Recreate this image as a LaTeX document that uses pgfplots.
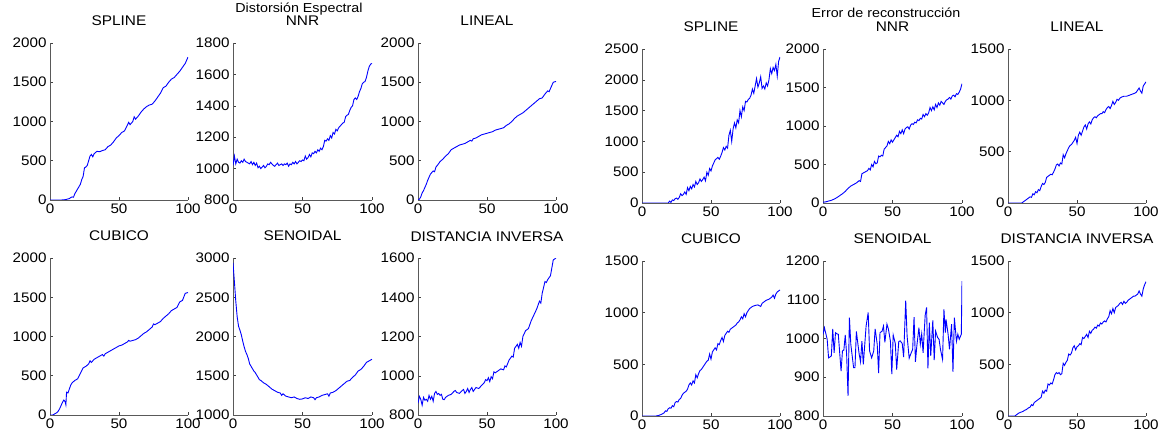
\documentclass[border=0pt]{standalone}
\usepackage{fontspec}
\setmainfont[FakeStretch=1.1]{Liberation Sans}
\usepackage{pgfplots}
\pgfplotsset{compat=1.18}
\definecolor{mblue}{RGB}{0,0,255}
\pgfplotsset{
  sub/.style={
    scale only axis, width=138pt, height=157pt,
    xmin=0, xmax=100, xtick={0,50,100},
    axis x line*=bottom, axis y line*=left,
    tick align=inside, major tick length=3pt,
    tick style={black!75, line width=0.5pt},
    axis line style={black!65, line width=0.7pt},
    ticklabel style={font=\fontsize{13.8}{13.8}\selectfont, text=black},
    /pgf/number format/assume math mode=true,
    /pgf/number format/set thousands separator={},
    scaled ticks=false,
    no markers,
    cycle list={{mblue}},
    every axis plot/.append style={line width=0.9pt},
    title style={font=\fontsize{14}{14}\selectfont, anchor=base, at={(0.5,1)}, yshift=11pt},
  },
}
\begin{document}
\begin{tikzpicture}
\useasboundingbox (0,0) rectangle (1167pt,436pt);
% ---------------- Distorsion Espectral ----------------
\begin{axis}[sub, at={(50pt,236pt)}, anchor=south west, title={SPLINE}, ymin=0, ymax=2000, ytick={0,500,1000,1500,2000}]
\addplot coordinates {(0,0)(2,0)(4,0)(6,0)(8,0)(10,2)(12,8)(14,18)(15,30)(16,40)(17,35)(18,80)(20,140)(22,200)(23,260)(24,300)(25,410)(26,420)(27,440)(28,500)(29,560)(30,580)(31,550)(32,590)(34,620)(36,615)(38,630)(40,640)(42,680)(44,700)(46,740)(48,790)(50,820)(52,860)(54,880)(56,950)(57,990)(58,960)(60,1000)(61,1060)(62,1030)(64,1070)(66,1120)(68,1160)(70,1190)(72,1210)(74,1220)(76,1260)(78,1310)(80,1360)(82,1430)(84,1450)(86,1500)(88,1540)(90,1560)(92,1600)(94,1640)(96,1690)(98,1740)(100,1820)};
\end{axis}
\begin{axis}[sub, at={(233pt,236pt)}, anchor=south west, width=139pt, title={NNR}, ymin=800, ymax=1800, ytick={800,1000,1200,1400,1600,1800}]
\addplot coordinates {(0,1020)(1,1080)(2,1030)(3,1060)(4,1040)(5,1035)(6,1050)(7,1040)(8,1060)(9,1045)(10,1040)(12,1030)(13,1045)(14,1025)(15,1040)(16,1020)(17,1035)(18,1005)(19,1015)(20,1000)(21,1010)(22,1020)(23,1005)(24,1015)(25,1030)(26,1025)(27,1040)(28,1030)(29,1020)(30,1015)(31,1025)(32,1035)(33,1020)(34,1025)(35,1030)(36,1020)(37,1030)(38,1025)(39,1035)(40,1015)(41,1030)(42,1025)(43,1040)(44,1030)(45,1045)(46,1030)(47,1040)(48,1050)(49,1045)(50,1055)(51,1050)(52,1080)(53,1060)(54,1070)(55,1090)(56,1075)(57,1100)(58,1095)(59,1110)(60,1100)(61,1120)(62,1110)(63,1130)(64,1120)(65,1140)(66,1180)(67,1175)(68,1190)(69,1180)(70,1210)(71,1195)(72,1230)(73,1220)(74,1250)(75,1240)(76,1260)(77,1270)(78,1280)(79,1290)(80,1295)(81,1330)(82,1340)(83,1345)(84,1370)(85,1390)(86,1400)(87,1440)(88,1450)(89,1440)(90,1460)(91,1490)(92,1510)(93,1540)(94,1550)(95,1555)(96,1580)(97,1620)(98,1650)(99,1665)(100,1670)};
\end{axis}
\begin{axis}[sub, at={(418pt,236pt)}, anchor=south west, title={LINEAL}, ymin=0, ymax=2000, ytick={0,500,1000,1500,2000}]
\addplot coordinates {(0,0)(1,10)(2,40)(3,90)(4,120)(5,160)(6,200)(7,250)(8,290)(9,330)(10,350)(11,370)(12,360)(13,420)(14,440)(16,490)(18,520)(20,560)(22,590)(24,640)(26,660)(28,680)(30,700)(32,710)(34,720)(36,740)(38,760)(39,750)(40,780)(42,790)(44,810)(46,830)(48,840)(50,850)(52,860)(54,870)(56,890)(58,900)(60,910)(62,920)(64,950)(66,970)(68,1000)(70,1040)(72,1070)(74,1090)(76,1110)(78,1140)(80,1170)(82,1200)(84,1230)(86,1260)(88,1290)(90,1300)(92,1350)(94,1390)(95,1380)(96,1420)(98,1500)(100,1510)};
\end{axis}
\begin{axis}[sub, at={(50pt,21pt)}, anchor=south west, title={CUBICO}, ymin=0, ymax=2000, ytick={0,500,1000,1500,2000}]
\addplot coordinates {(0,0)(2,0)(3,10)(4,20)(5,30)(6,50)(7,80)(8,120)(9,160)(10,190)(11,170)(11.5,130)(12,290)(13,280)(14,330)(15,380)(16,410)(18,440)(20,460)(22,530)(24,600)(26,620)(28,650)(29,690)(30,670)(32,710)(34,730)(36,750)(38,770)(39,750)(40,780)(42,800)(44,820)(46,840)(48,860)(50,880)(52,890)(54,910)(56,930)(57,950)(58,940)(60,950)(62,960)(64,980)(66,1010)(68,1040)(70,1060)(72,1090)(74,1120)(75,1160)(76,1150)(78,1170)(80,1190)(82,1230)(84,1260)(86,1290)(88,1330)(90,1350)(92,1370)(94,1440)(96,1460)(98,1550)(100,1560)};
\end{axis}
\begin{axis}[sub, at={(233pt,21pt)}, anchor=south west, width=139pt, title={SENOIDAL}, ymin=1000, ymax=3000, ytick={1000,1500,2000,2500,3000}]
\addplot coordinates {(0,2940)(1,2700)(2,2450)(3,2250)(4,2130)(5,2080)(6,2020)(7,1940)(8,1870)(9,1810)(10,1770)(11,1720)(12,1650)(13,1620)(14,1590)(15,1560)(16,1540)(17,1510)(18,1480)(19,1450)(20,1440)(22,1410)(24,1390)(26,1360)(28,1330)(30,1310)(32,1290)(34,1280)(35,1250)(36,1270)(38,1240)(40,1230)(42,1220)(44,1230)(46,1210)(48,1200)(50,1205)(52,1220)(54,1210)(56,1230)(58,1220)(59,1195)(60,1220)(62,1230)(64,1250)(66,1260)(68,1270)(69,1240)(70,1280)(72,1290)(74,1310)(76,1340)(78,1370)(80,1400)(82,1430)(84,1440)(86,1480)(88,1510)(90,1560)(92,1580)(94,1620)(96,1670)(98,1690)(100,1710)};
\end{axis}
\begin{axis}[sub, at={(418pt,21pt)}, anchor=south west, title={DISTANCIA INVERSA}, ymin=800, ymax=1600, ytick={800,1000,1200,1400,1600}]
\addplot coordinates {(0,860)(1,895)(2,880)(3,850)(4,890)(5,875)(6,880)(7,870)(8,900)(9,880)(10,895)(11,870)(12,910)(13,920)(14,905)(15,910)(16,900)(17,905)(18,880)(19,878)(20,890)(22,900)(24,905)(26,920)(27,925)(28,915)(30,910)(32,925)(33,930)(34,910)(35,920)(36,935)(37,915)(38,930)(39,940)(40,920)(42,940)(44,935)(46,950)(48,965)(49,980)(50,975)(51,990)(52,970)(53,995)(54,985)(55,1020)(56,1015)(58,1025)(60,1035)(62,1030)(63,1050)(64,1045)(66,1080)(68,1100)(69,1095)(70,1140)(72,1160)(73,1140)(74,1170)(75,1150)(76,1200)(78,1230)(80,1240)(82,1280)(84,1310)(86,1340)(88,1380)(89,1370)(90,1420)(92,1480)(93,1475)(94,1490)(96,1510)(98,1590)(100,1600)};
\end{axis}
% ---------------- Error de reconstruccion ----------------
\begin{axis}[sub, at={(642pt,233pt)}, anchor=south west, height=154pt, title={SPLINE}, ymin=0, ymax=2500, ytick={0,500,1000,1500,2000,2500}]
\addplot coordinates {(0,0)(5,0)(10,0)(15,0)(19,0)(20,30)(21,10)(22,50)(23,40)(24,70)(25,80)(26,60)(27,90)(28,150)(29,120)(30,140)(31,180)(32,140)(33,250)(34,200)(35,270)(36,230)(37,300)(38,260)(39,350)(40,300)(41,330)(42,390)(43,350)(44,380)(45,420)(46,360)(47,500)(48,450)(49,560)(50,520)(51,600)(52,650)(53,700)(54,720)(55,740)(56,710)(57,760)(58,820)(59,900)(60,860)(61,920)(62,890)(63,1100)(64,1180)(65,1000)(66,1200)(67,1300)(68,1220)(69,1350)(70,1300)(71,1500)(72,1400)(73,1560)(74,1500)(75,1650)(76,1640)(77,1680)(78,1700)(79,1750)(80,1850)(81,1780)(82,1900)(83,2020)(84,1880)(85,1950)(86,2050)(87,1860)(88,1900)(89,1850)(90,1950)(91,1900)(92,2000)(93,2180)(94,2100)(95,2200)(96,2150)(97,2250)(98,2060)(99,2300)(100,2370)};
\end{axis}
\begin{axis}[sub, at={(823pt,233pt)}, anchor=south west, width=139pt, height=154pt, title={NNR}, ymin=0, ymax=2000, ytick={0,500,1000,1500,2000}]
\addplot coordinates {(0,10)(2,15)(4,25)(6,35)(8,50)(10,70)(12,95)(14,120)(16,150)(18,190)(20,220)(22,240)(24,260)(26,290)(27,280)(28,380)(29,390)(30,400)(31,410)(32,420)(33,450)(34,430)(35,500)(36,470)(37,540)(38,510)(39,520)(40,610)(41,600)(42,620)(43,610)(44,700)(45,720)(46,740)(47,800)(48,770)(49,820)(50,790)(51,820)(52,850)(53,880)(54,860)(55,930)(56,900)(57,950)(58,900)(59,960)(60,980)(61,990)(62,960)(63,1010)(64,1030)(65,1020)(66,1050)(67,1040)(68,1080)(69,1070)(70,1100)(71,1090)(72,1150)(73,1120)(74,1160)(75,1140)(76,1170)(77,1240)(78,1200)(79,1250)(80,1210)(81,1280)(82,1240)(83,1300)(84,1270)(85,1320)(86,1300)(87,1280)(88,1320)(89,1340)(90,1350)(91,1370)(92,1350)(93,1390)(94,1400)(95,1380)(96,1420)(97,1410)(98,1440)(99,1480)(100,1550)};
\end{axis}
\begin{axis}[sub, at={(1008pt,233pt)}, anchor=south west, height=154pt, title={LINEAL}, ymin=0, ymax=1500, ytick={0,500,1000,1500}]
\addplot coordinates {(0,0)(5,0)(10,0)(12,20)(14,40)(15,50)(16,60)(17,55)(18,90)(19,80)(20,110)(21,100)(22,130)(23,120)(24,160)(25,190)(26,180)(27,200)(28,250)(29,260)(30,270)(31,280)(32,275)(33,300)(34,330)(35,370)(36,380)(37,360)(38,390)(39,380)(40,470)(41,440)(42,480)(43,510)(44,540)(45,560)(46,570)(47,590)(48,610)(49,640)(50,580)(51,660)(52,690)(53,660)(54,700)(55,740)(56,760)(57,720)(58,770)(59,790)(60,770)(61,810)(62,830)(63,840)(64,830)(65,850)(66,860)(67,870)(68,870)(69,890)(70,880)(71,910)(72,930)(73,940)(74,920)(75,950)(76,990)(77,960)(78,980)(79,1010)(80,1000)(81,1020)(82,1030)(84,1040)(86,1040)(88,1050)(90,1060)(92,1070)(93,1080)(94,1100)(95,1120)(96,1090)(97,1070)(98,1140)(99,1160)(100,1180)};
\end{axis}
\begin{axis}[sub, at={(642pt,20pt)}, anchor=south west, height=155pt, title={CUBICO}, ymin=0, ymax=1500, ytick={0,500,1000,1500}]
\addplot coordinates {(0,0)(5,0)(10,0)(12,5)(14,15)(16,30)(17,50)(18,45)(19,70)(20,80)(21,75)(22,100)(23,90)(24,130)(25,140)(26,135)(27,160)(28,170)(29,200)(30,220)(31,230)(32,240)(33,260)(34,300)(35,320)(36,300)(37,340)(38,320)(39,400)(40,370)(41,410)(42,440)(43,450)(44,470)(45,490)(46,510)(47,530)(48,540)(49,600)(50,550)(51,620)(52,640)(53,660)(54,640)(55,700)(56,690)(57,730)(58,760)(59,720)(60,780)(61,800)(62,820)(63,810)(64,840)(65,850)(66,860)(67,870)(68,880)(69,900)(70,910)(71,930)(72,960)(73,940)(74,990)(75,960)(76,1000)(77,1020)(78,1040)(79,1050)(80,1060)(82,1070)(84,1075)(86,1060)(87,1090)(88,1100)(90,1120)(92,1130)(94,1150)(95,1170)(96,1140)(97,1180)(98,1200)(100,1220)};
\end{axis}
\begin{axis}[sub, at={(823pt,20pt)}, anchor=south west, width=139pt, height=155pt, title={SENOIDAL}, ymin=800, ymax=1200, ytick={800,900,1000,1100,1200}]
\addplot coordinates {(0,1010)(1,1028)(3,998)(4,950)(6,955)(7,1025)(8,963)(9,1015)(10,1012)(11,1011)(13,916)(14,968)(15,970)(16,1009)(17,959)(18,852)(19,1054)(20,985)(22,925)(23,925)(24,1018)(26,960)(27,940)(28,993)(29,933)(31,1032)(32.5,1067)(33.5,968)(35,950)(36.5,968)(37.5,1025)(39,985)(40,911)(41,1015)(42.5,1019)(43.5,1032)(44.5,990)(46,1037)(47,1025)(48.5,993)(49.5,908)(50.5,1009)(52,987)(53,920)(54.5,992)(55.5,994)(57,987)(58,952)(59.5,1098)(60.5,1006)(62,949)(63,959)(64.5,972)(65.5,1055)(66.5,940)(67.5,981)(69,1028)(70,985)(71,1012)(72,963)(73.5,1060)(74.5,1080)(75.5,923)(76.5,1041)(77.5,955)(79,1047)(80,944)(81,1019)(82.5,1002)(83.5,998)(84.5,972)(86,946)(87,1075)(88,1015)(88.5,1049)(90,1011)(91,972)(92.5,1037)(93.5,914)(94.5,1054)(96,993)(97,1011)(98,998)(99.5,1011)(100,1148)};
\end{axis}
\begin{axis}[sub, at={(1008pt,20pt)}, anchor=south west, height=155pt, title={DISTANCIA INVERSA}, ymin=0, ymax=1500, ytick={0,500,1000,1500}]
\addplot coordinates {(0,0)(3,0)(5,0)(6,10)(7,20)(8,30)(9,35)(10,40)(11,45)(12,55)(13,60)(14,70)(15,80)(16,85)(17,110)(18,100)(19,130)(20,140)(21,150)(22,160)(23,170)(24,180)(25,240)(26,220)(27,250)(28,240)(29,310)(30,300)(31,320)(32,310)(33,350)(34,400)(35,420)(36,410)(37,420)(38,400)(39,410)(40,510)(41,490)(42,520)(43,540)(44,600)(45,590)(46,610)(47,660)(48,680)(49,640)(50,670)(51,680)(52,700)(53,690)(54,760)(55,750)(56,770)(57,790)(58,760)(59,820)(60,800)(61,830)(62,840)(63,860)(64,850)(65,880)(66,870)(67,900)(68,890)(69,910)(70,920)(71,910)(72,940)(73,960)(74,1020)(75,990)(76,1040)(77,1000)(78,1050)(79,1060)(80,1070)(81,1090)(82,1100)(83,1080)(84,1110)(85,1090)(86,1100)(87,1120)(88,1130)(89,1140)(90,1150)(91,1160)(92,1160)(93,1170)(94,1180)(95,1210)(96,1180)(97,1160)(98,1230)(99,1270)(100,1300)};
\end{axis}
% main titles
\node[anchor=base, font=\fontsize{13}{13}\selectfont, inner sep=0pt] at (299pt,423.5pt) {Distorsión Espectral};
\node[anchor=base, font=\fontsize{13}{13}\selectfont, inner sep=0pt] at (886pt,418pt) {Error de reconstrucción};
\end{tikzpicture}
\end{document}
